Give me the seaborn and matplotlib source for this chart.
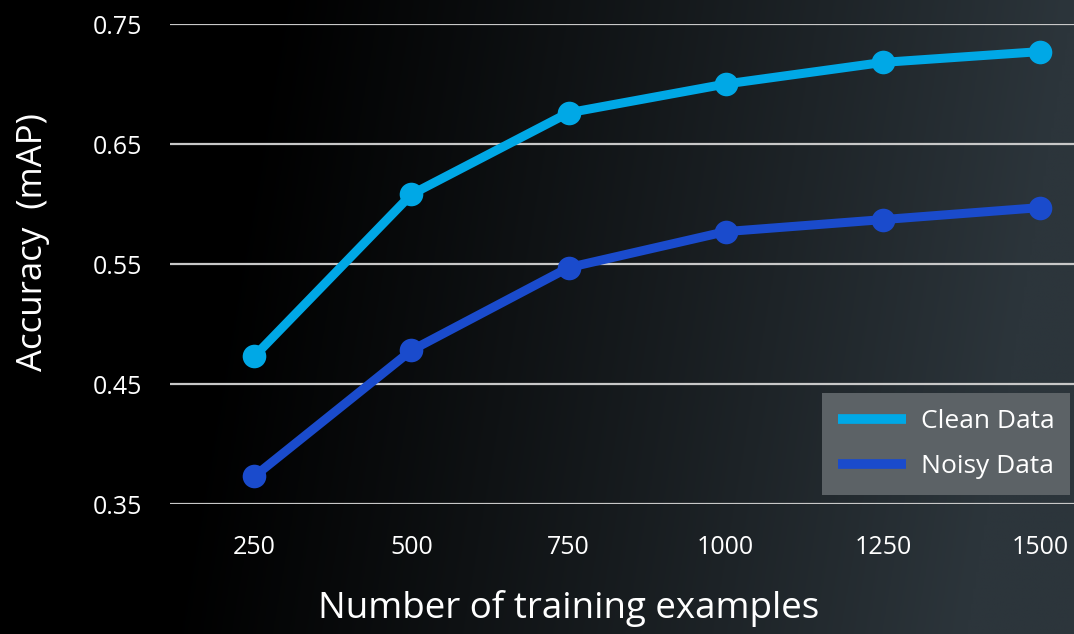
import numpy as np
import pandas as pd
import matplotlib.pyplot as plt
import seaborn as sns
from matplotlib.lines import Line2D

# data
examples = [250, 500, 750, 1000, 1250, 1500]
clean_acc = [0.473, 0.608, 0.676, 0.700, 0.718, 0.727]
noisy_acc = [0.373, 0.478, 0.547, 0.577, 0.587, 0.597]
series_names = ["Clean Data", "Noisy Data"]
y_ticks = [0.35, 0.45, 0.55, 0.65, 0.75]

df = pd.DataFrame({
    "examples": examples * 2,
    "accuracy": clean_acc + noisy_acc,
    "series": [series_names[0]] * len(examples) + [series_names[1]] * len(examples),
})

colors = {"Clean Data": "#00a8e6", "Noisy Data": "#1a4bcc"}

sns.set_theme(style="dark")
plt.rcParams["font.family"] = ["Open Sans", "DejaVu Sans"]

fig = plt.figure(figsize=(10.74, 6.34), dpi=100)
fig.patch.set_facecolor("black")

# background gradient: black on the left, dark slate on the right
bg = fig.add_axes([0, 0, 1, 1], zorder=-10)
xx = np.linspace(0, 1, 400)
yy = np.linspace(0, 1, 200)
X, Y = np.meshgrid(xx, yy)
t = np.clip((X - 0.25 + 0.1 * Y) / 0.75, 0, 1) ** 1.1
rgb = np.zeros(X.shape + (3,))
rgb[..., 0] = t * 44 / 255
rgb[..., 1] = t * 53 / 255
rgb[..., 2] = t * 59 / 255
bg.imshow(rgb, aspect="auto", extent=[0, 1, 0, 1], origin="upper")
bg.axis("off")

ax = fig.add_axes([170 / 1074, 130 / 634, 904 / 1074, 480 / 634])
ax.set_facecolor("none")

sns.lineplot(data=df, x="examples", y="accuracy", hue="series", palette=colors,
             marker="o", markersize=17, markeredgewidth=0, linewidth=6.5,
             legend=False, ax=ax, clip_on=False, zorder=3)

ax.set_xlim(116, 1554)
ax.set_ylim(0.35, 0.75)
ax.set_xticks(examples)
ax.set_xticklabels([str(v) for v in examples])
ax.set_yticks(y_ticks)
ax.set_yticklabels([f"{v:.2f}" for v in y_ticks])

ax.grid(False)
ax.yaxis.grid(True, color="#c8c8c8", linewidth=1.6)
ax.set_axisbelow(True)
for s in ax.spines.values():
    s.set_visible(False)

ax.tick_params(axis="both", length=0, colors="white", labelsize=18)
ax.tick_params(axis="x", pad=22)
ax.tick_params(axis="y", pad=20)

ax.set_xlabel("Number of training examples", color="white", fontsize=26.5, va="center")
ax.set_ylabel("Accuracy  (mAP)", color="white", fontsize=25, va="center")
ax.xaxis.set_label_coords(0.441, -0.217)
ax.yaxis.set_label_coords(-0.152, 0.546)

handles = [Line2D([0], [0], color=colors[n], linewidth=7, solid_capstyle="butt")
           for n in series_names]
leg = ax.legend(handles, series_names, loc="lower right",
                bbox_to_anchor=(0.996, 0.019), frameon=True, fancybox=False,
                fontsize=19, handlelength=2.6, handletextpad=0.55,
                labelspacing=0.75, borderpad=0.6, borderaxespad=0)
leg.get_frame().set_facecolor("#5c6266")
leg.get_frame().set_edgecolor("none")
leg.get_frame().set_alpha(1)
for txt in leg.get_texts():
    txt.set_color("white")

fig.savefig("out.png", dpi=100, facecolor=fig.get_facecolor())
